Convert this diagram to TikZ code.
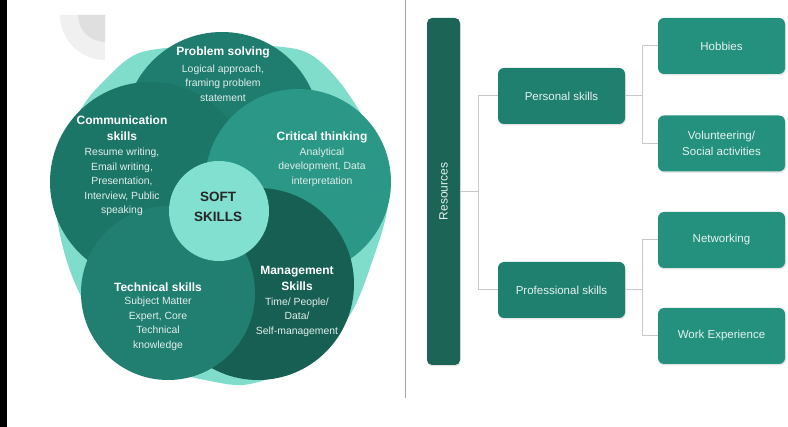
\documentclass[tikz,border=0pt]{standalone}
\usepackage{fontspec}
\setmainfont{Liberation Sans}
\usetikzlibrary{shadows}

\definecolor{pale}{HTML}{80DCCB}
\definecolor{probc}{HTML}{1E7D6F}
\definecolor{commc}{HTML}{1B7668}
\definecolor{critc}{HTML}{2A9787}
\definecolor{mgmtc}{HTML}{175F53}
\definecolor{techc}{HTML}{207F71}
\definecolor{softc}{HTML}{82E0D0}
\definecolor{bodytxt}{HTML}{E3EEEB}
\definecolor{resc}{HTML}{1B6456}
\definecolor{midc}{HTML}{1F8070}
\definecolor{leafc}{HTML}{24917F}
\definecolor{boxtxt}{HTML}{E6F2EF}
\definecolor{linkc}{HTML}{C8C8C8}

\begin{document}
\begin{tikzpicture}[x=1pt,y=-1pt,
    ttl/.style={text=white,font=\bfseries\fontsize{12}{16}\selectfont,align=center,inner sep=0pt},
    txt/.style={text=bodytxt,font=\fontsize{10.4}{14.5}\selectfont,align=center,inner sep=0pt},
    box/.style={rectangle,rounded corners=6pt,minimum width=127pt,minimum height=56pt,
      inner sep=2pt,text=boxtxt,font=\fontsize{11.5}{16.5}\selectfont,align=center,
      drop shadow={opacity=0.2,shadow xshift=0.8pt,shadow yshift=-1.5pt}},
    midbox/.style={box,fill=midc},
    leafbox/.style={box,fill=leafc},
    link/.style={draw=linkc,line width=1pt}]
  \useasboundingbox (0,0) rectangle (788,427);
  \fill[black] (0,0) rectangle (7,427);
  %
  % faded mark in the corner
  \fill[gray!12] (105,15) -- ++(-45,0) arc[start angle=180,end angle=90,radius=45] -- cycle;
  \fill[gray!25] (105,15) -- ++(-27,0) arc[start angle=180,end angle=90,radius=27] -- cycle;
  %
  % soft skills circles
  \fill[pale] plot[smooth cycle,tension=0.5] coordinates {(222,45) (300,50) (338,80)
    (372,135) (388,200) (372,262) (348,318) (300,365) (250,384) (215,382) (150,365)
    (100,328) (68,265) (55,190) (78,115) (105,80) (142,52)};
  \coordinate (cps) at (222,130);
  \coordinate (ccm) at (150,182);
  \coordinate (cct) at (298,182);
  \coordinate (cmg) at (258,284);
  \coordinate (ctk) at (168,293);
  \coordinate (csf) at (219,211);
  \fill[probc] (cps) circle (98);
  \fill[commc] (ccm) circle (100);
  \fill[critc] (cct) circle (93);
  \fill[mgmtc] (cmg) circle (96);
  \fill[techc] (ctk) circle (87);
  \fill[softc] (csf) circle (50);
  %
  \node[ttl] (ps) at (223,52) {Problem solving};
  \node[txt] (psb) at (223,83) {Logical approach,\\framing problem\\statement};
  \node[ttl] (cm) at (122,128) {Communication\\skills};
  \node[txt] (cmb) at (122,182) {Resume writing,\\Email writing,\\Presentation,\\Interview, Public\\speaking};
  \node[ttl] (ct) at (322,137) {Critical thinking};
  \node[txt] (ctb) at (322,167) {Analytical\\development, Data\\interpretation};
  \node[ttl,text=black!85,font=\bfseries\fontsize{13.5}{19.5}\selectfont] (sf) at (218,207) {SOFT\\SKILLS};
  \node[ttl] (tk) at (158,287) {Technical skills};
  \node[txt] (tkb) at (158,324) {Subject Matter\\Expert, Core\\Technical\\knowledge};
  \node[ttl] (mg) at (297,278) {Management\\Skills};
  \node[txt] (mgb) at (297,317) {Time/ People/\\Data/\\Self-management};
  %
  \draw[gray!70,line width=0.8pt] (405,0) -- (405,398);
  %
  % resources tree
  \node[rotate=90,fill=resc,rounded corners=5pt,minimum width=347pt,minimum height=33pt,
    text=boxtxt,font=\fontsize{12}{14}\selectfont,
    drop shadow={opacity=0.2,shadow xshift=0.8pt,shadow yshift=-1.5pt}] (res) at (443.5,191.5) {Resources};
  \node[midbox] (pers) at (561.5,96) {Personal skills};
  \node[midbox] (prof) at (561.5,290) {Professional skills};
  \node[leafbox] (hob) at (721.5,46) {Hobbies};
  \node[leafbox] (vol) at (721.5,143.5) {Volunteering/\\Social activities};
  \node[leafbox] (net) at (721.5,240) {Networking};
  \node[leafbox] (work) at (721.5,336) {Work Experience};
  \coordinate (jr) at (478,191.5);
  \coordinate (jp) at (642,96);
  \coordinate (jq) at (642,290);
  %
  \draw[link] (res) -- (jr);
  \draw[link] (jr) |- (pers);
  \draw[link] (jr) |- (prof);
  \draw[link] (pers) -- (jp);
  \draw[link] (jp) |- (hob);
  \draw[link] (jp) |- (vol);
  \draw[link] (prof) -- (jq);
  \draw[link] (jq) |- (net);
  \draw[link] (jq) |- (work);
\end{tikzpicture}
\end{document}
